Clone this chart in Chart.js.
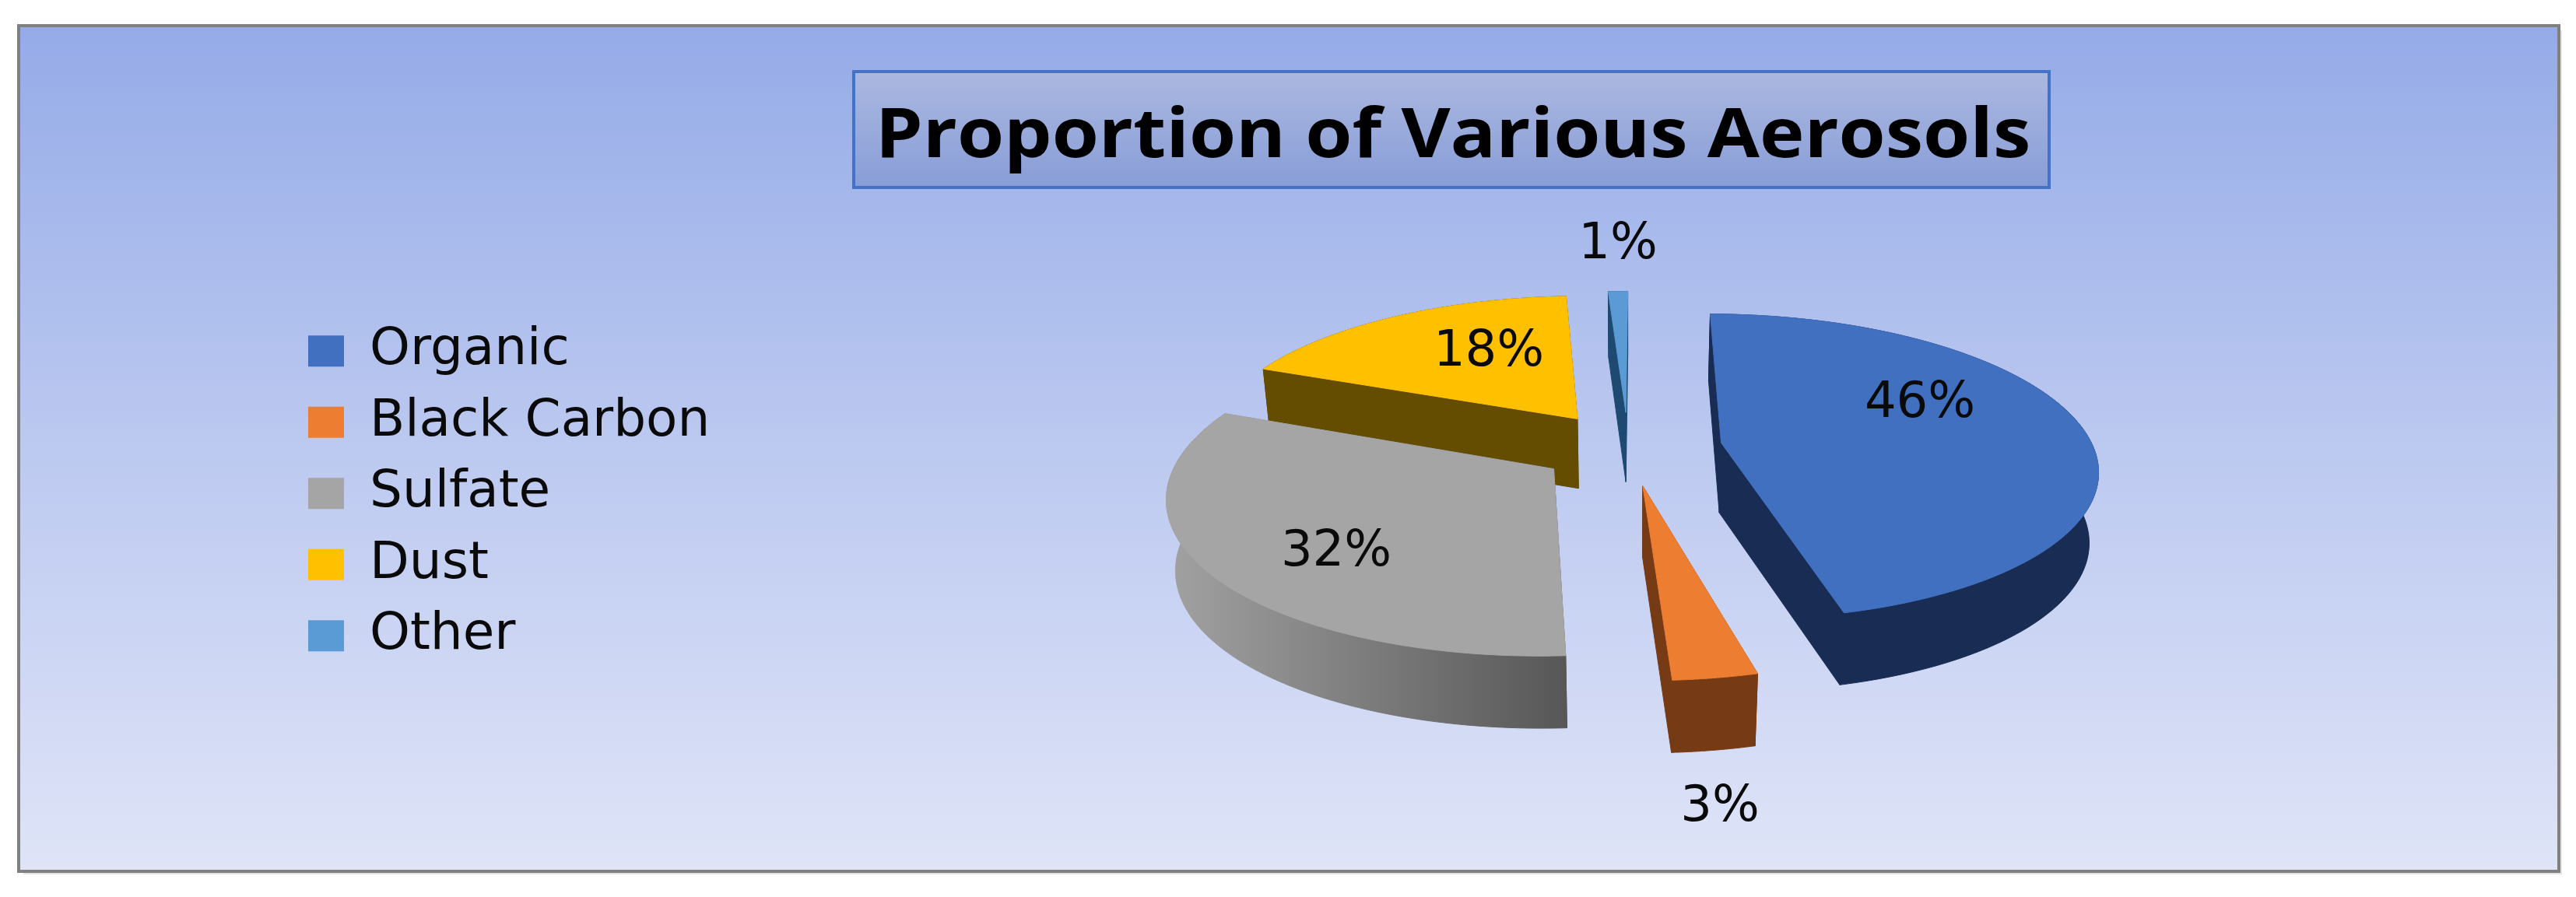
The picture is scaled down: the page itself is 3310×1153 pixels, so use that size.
<!DOCTYPE html>
<html><head><meta charset="utf-8">
<script src="https://cdn.jsdelivr.net/npm/chart.js@4"></script>
<style>html,body{margin:0;padding:0;background:#fff}canvas{display:block}</style>
</head><body><canvas id="c" width="3310" height="1153"></canvas>
<script>
const titleText = 'Proportion of Various Aerosols';
const categories = ['Organic','Black Carbon','Sulfate','Dust','Other'];
const shares = [46,3,32,18,1];
const topColors = ['#4170C0','#ED7D31','#A5A5A5','#FFC000','#5B9BD5'];
const wallColors = ['#182C54','#763A15','#808080','#644C00','#1E4A72'];
const explodeBy = [121,120,115,115,115];
const labelOffsets = [[375,-56],[118,463],[-375,135],[-179,-122],[-13,-260]];

const squash = 0.404, persp = 0.157, depth = 90, baseScale = 0.98;

const scene = {
  id:'scene',
  beforeDraw(chart){
    const c = chart.ctx; c.save();
    c.fillStyle='#fff'; c.fillRect(0,0,chart.width,chart.height);
    c.fillStyle='#E4E4E4'; c.fillRect(30,39,3262,1085);
    const g=c.createLinearGradient(0,33,0,1120);
    g.addColorStop(0,'#95ABE8'); g.addColorStop(.5,'#BCC9F0'); g.addColorStop(1,'#DFE4F7');
    c.fillStyle=g; c.fillRect(24,33,3264,1087);
    c.strokeStyle='#808080'; c.lineWidth=4; c.strokeRect(24,33,3264,1087);
    const b=c.createLinearGradient(0,92,0,241);
    b.addColorStop(0,'#ABB8E0'); b.addColorStop(1,'#889DD7');
    c.fillStyle=b; c.fillRect(1097,92,1536,149);
    c.strokeStyle='#4472C4'; c.lineWidth=4; c.strokeRect(1097,92,1536,149);
    c.translate(1867,202); c.scale(1.105,1);
    c.fillStyle='#000'; c.font='bold 88px "Open Sans"'; c.textAlign='center'; c.textBaseline='alphabetic';
    c.fillText(titleText,0,0);
    c.restore();
  },
  beforeDatasetDraw(chart){
    const c=chart.ctx, arcs=chart.getDatasetMeta(0).data;
    const items=arcs.map((a,i)=>{
      const p=a.getProps(['x','y','startAngle','endAngle','outerRadius']);
      const mid=(p.startAngle+p.endAngle)/2, e=a.options.offset/p.outerRadius;
      return {i,p,mid,ex:Math.cos(mid)*e,ey:Math.sin(mid)*e};
    }).sort((m,n)=>Math.sin(m.mid)-Math.sin(n.mid));
    const proj=(it,u,v,z)=>{
      const R=it.p.outerRadius,w=1-persp*v,s=z?baseScale:1;
      return [it.p.x+s*R*u/w, it.p.y+s*R*squash*v/w+z*depth*(1+0.08*v)];
    };
    const poly=(pts,fill)=>{
      c.beginPath(); pts.forEach((q,k)=>k?c.lineTo(q[0],q[1]):c.moveTo(q[0],q[1])); c.closePath();
      c.fillStyle=fill; c.fill(); c.strokeStyle=fill; c.lineWidth=1; c.stroke();
    };
    c.save();
    for(const it of items){
      const N=90, top=[], bot=[];
      for(let k=0;k<=N;k++){
        const a=it.p.startAngle+(it.p.endAngle-it.p.startAngle)*k/N;
        const u=it.ex+Math.cos(a), v=it.ey+Math.sin(a);
        top.push(proj(it,u,v,0)); bot.push(proj(it,u,v,1));
      }
      const at=proj(it,it.ex,it.ey,0), ab=proj(it,it.ex,it.ey,1);
      let wall=wallColors[it.i];
      if(categories[it.i]==='Sulfate'){
        const xs=top.map(q=>q[0]);
        const g=c.createLinearGradient(Math.min(...xs),0,Math.max(...xs),0);
        g.addColorStop(0,'#A2A2A2'); g.addColorStop(1,'#575757'); wall=g;
      }
      poly([at,top[0],bot[0],ab],wall);
      poly([at,top[N],bot[N],ab],wall);
      poly(top.concat(bot.slice().reverse()),wall);
      poly([at].concat(top),topColors[it.i]);
    }
    c.restore();
    return false;
  },
  afterDatasetsDraw(chart){
    const c=chart.ctx, a0=chart.getDatasetMeta(0).data[0];
    c.save(); c.fillStyle='#0A0A0A'; c.font='64px "DejaVu Sans"'; c.textAlign='center'; c.textBaseline='middle';
    shares.forEach((v,i)=>c.fillText(v+'%',a0.x+labelOffsets[i][0],a0.y+labelOffsets[i][1]));
    c.restore();
  }
};

new Chart(document.getElementById('c'),{
  type:'pie',
  data:{labels:categories,datasets:[{data:shares,backgroundColor:topColors,borderWidth:0,offset:explodeBy}]},
  options:{
    responsive:false,animation:false,rotation:0.3,
    layout:{padding:{left:370.5,right:46.5,top:36.5,bottom:39.5}},
    plugins:{
      tooltip:{enabled:false},
      legend:{
        position:'left',align:'start',maxWidth:550,
        title:{display:true,text:' ',font:{size:1},padding:{top:355,bottom:0}},
        labels:{boxWidth:46,boxHeight:40,padding:25.5,color:'#0A0A0A',font:{family:'"DejaVu Sans"',size:66}}
      }
    }
  },
  plugins:[scene]
});
</script></body></html>
